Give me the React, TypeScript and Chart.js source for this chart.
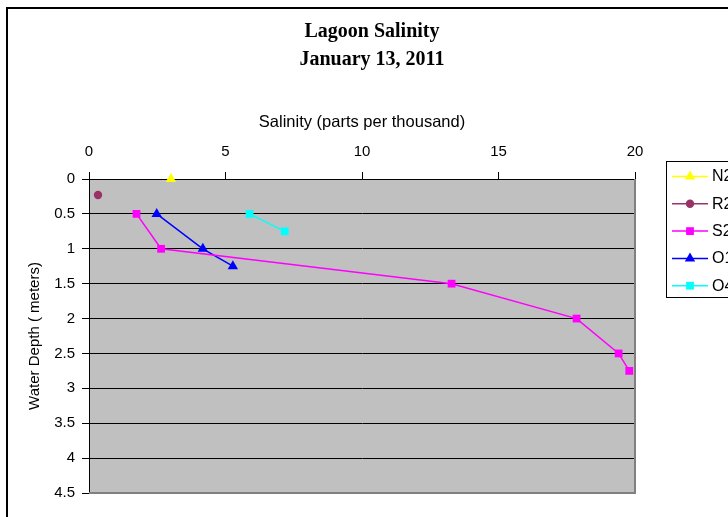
import React, { useEffect, useRef } from 'react';
import { Chart, registerables } from 'chart.js';

Chart.register(...registerables);

// ---- Data (salinity in ppt, depth in meters) ----
const seriesNames = ['N2', 'R2', 'S2', 'O1', 'O4'];
const seriesColors = ['#FFFF00', '#993366', '#FF00FF', '#0000FF', '#00FFFF'];
const seriesMarkers = ['triangle', 'circle', 'rect', 'triangle', 'rect'];

const n2Salinity = [3.0];
const n2Depth = [0];
const r2Salinity = [0.33];
const r2Depth = [0.23];
const s2Salinity = [1.74, 2.64, 13.28, 17.86, 19.4, 19.79];
const s2Depth = [0.5, 1.0, 1.5, 2.0, 2.5, 2.75];
const o1Salinity = [2.48, 4.17, 5.27];
const o1Depth = [0.5, 1.0, 1.25];
const o4Salinity = [5.88, 7.17];
const o4Depth = [0.5, 0.75];

const salinityTicks = [0, 5, 10, 15, 20];
const depthTicks = [0, 0.5, 1, 1.5, 2, 2.5, 3, 3.5, 4, 4.5];

const titleLines = ['Lagoon Salinity', 'January 13, 2011'];
const xTitle = 'Salinity (parts per thousand)';
const yTitle = 'Water Depth ( meters)';

const seriesX = [n2Salinity, r2Salinity, s2Salinity, o1Salinity, o4Salinity];
const seriesY = [n2Depth, r2Depth, s2Depth, o1Depth, o4Depth];

const SANS = "'Liberation Sans', Arial, sans-serif";
const SERIF = "'Liberation Serif', 'Times New Roman', serif";

function markerRadius(style: string) {
  if (style === 'circle') return 4.2;
  if (style === 'triangle') return 6;
  return 5.5;
}

function drawMarker(ctx: CanvasRenderingContext2D, style: string, x: number, y: number, r: number, color: string) {
  ctx.save();
  ctx.fillStyle = color;
  ctx.beginPath();
  if (style === 'circle') {
    ctx.arc(x, y, r, 0, Math.PI * 2);
  } else if (style === 'rect') {
    const s = r * Math.SQRT1_2;
    ctx.rect(x - s, y - s, 2 * s, 2 * s);
  } else {
    let rad = 0;
    ctx.moveTo(x + Math.sin(rad) * r, y - Math.cos(rad) * r);
    rad += (2 * Math.PI) / 3;
    ctx.lineTo(x + Math.sin(rad) * r, y - Math.cos(rad) * r);
    rad += (2 * Math.PI) / 3;
    ctx.lineTo(x + Math.sin(rad) * r, y - Math.cos(rad) * r);
    ctx.closePath();
  }
  ctx.fill();
  ctx.restore();
}

const decorPlugin = {
  id: 'decor',
  beforeDraw(chart: any) {
    const { ctx, chartArea: a } = chart;
    ctx.save();
    ctx.fillStyle = '#ffffff';
    ctx.fillRect(0, 0, chart.width, chart.height);
    ctx.strokeStyle = '#000000';
    ctx.lineWidth = 2;
    ctx.strokeRect(7, 8, 760, 560);
    ctx.fillStyle = '#C0C0C0';
    ctx.fillRect(a.left, a.top, a.right - a.left, a.bottom - a.top);
    ctx.restore();
  },
  beforeDatasetsDraw(chart: any) {
    const { ctx, chartArea: a } = chart;
    ctx.save();
    ctx.strokeStyle = '#808080';
    ctx.lineWidth = 2;
    ctx.beginPath();
    ctx.moveTo(a.right, a.top);
    ctx.lineTo(a.right, a.bottom);
    ctx.lineTo(a.left, a.bottom);
    ctx.stroke();
    ctx.restore();
  },
  afterDraw(chart: any) {
    const { ctx } = chart;
    ctx.save();
    // Title
    ctx.fillStyle = '#000000';
    ctx.font = `bold 20px ${SERIF}`;
    ctx.textAlign = 'center';
    ctx.textBaseline = 'alphabetic';
    ctx.fillText(titleLines[0], 372, 37);
    ctx.fillText(titleLines[1], 372, 65);

    // Legend
    const lx = 666;
    const ly = 161;
    ctx.fillStyle = '#ffffff';
    ctx.fillRect(lx, ly, 100, 136);
    ctx.strokeStyle = '#000000';
    ctx.lineWidth = 1;
    ctx.strokeRect(lx + 0.5, ly + 0.5, 100, 136);
    ctx.font = `16px ${SANS}`;
    ctx.textAlign = 'left';
    ctx.textBaseline = 'middle';
    chart.data.datasets.forEach((ds: any, i: number) => {
      const y = 176.5 + i * 27.3;
      ctx.strokeStyle = ds.borderColor;
      ctx.lineWidth = 1.5;
      ctx.beginPath();
      ctx.moveTo(672, y);
      ctx.lineTo(708, y);
      ctx.stroke();
      drawMarker(ctx, ds.pointStyle, 690, y, ds.pointRadius, ds.borderColor);
      ctx.fillStyle = '#000000';
      ctx.fillText(ds.label, 712, y + 0.5);
    });
    ctx.restore();
  },
};

export default function App() {
  const canvasRef = useRef<HTMLCanvasElement | null>(null);

  useEffect(() => {
    if (!canvasRef.current) return;
    const datasets = seriesNames.map((name, i) => ({
      label: name,
      data: seriesX[i].map((x, j) => ({ x, y: seriesY[i][j] })),
      borderColor: seriesColors[i],
      backgroundColor: seriesColors[i],
      pointBackgroundColor: seriesColors[i],
      pointBorderColor: seriesColors[i],
      pointBorderWidth: 0,
      pointStyle: seriesMarkers[i],
      pointRadius: markerRadius(seriesMarkers[i]),
      borderWidth: 1.5,
      showLine: true,
      tension: 0,
      clip: false as any,
    }));

    const chart = new Chart(canvasRef.current, {
      type: 'scatter',
      data: { datasets },
      options: {
        responsive: false,
        animation: false,
        devicePixelRatio: 1,
        layout: { padding: { left: 0, top: 0, right: 93, bottom: 24 } },
        plugins: {
          legend: { display: false },
          title: { display: false },
          tooltip: { enabled: false },
        },
        scales: {
          x: {
            type: 'linear',
            position: 'top',
            min: salinityTicks[0],
            max: salinityTicks[salinityTicks.length - 1],
            afterBuildTicks: (scale: any) => {
              scale.ticks = salinityTicks.map((v) => ({ value: v }));
            },
            afterFit: (scale: any) => {
              scale.height = 179;
            },
            ticks: {
              color: '#000000',
              font: { family: SANS, size: 15 },
              padding: 11,
              maxRotation: 0,
            },
            grid: {
              drawOnChartArea: false,
              drawTicks: true,
              tickLength: 7,
              color: '#000000',
              lineWidth: 1,
            },
            border: { display: true, color: '#000000', width: 1 },
            title: {
              display: true,
              text: xTitle,
              color: '#000000',
              font: { family: SANS, size: 16.5 },
              padding: { top: 112.6, bottom: 0 },
            },
          },
          y: {
            type: 'linear',
            position: 'left',
            reverse: true,
            min: depthTicks[0],
            max: depthTicks[depthTicks.length - 1],
            afterBuildTicks: (scale: any) => {
              scale.ticks = depthTicks.map((v) => ({ value: v }));
            },
            afterFit: (scale: any) => {
              scale.width = 89;
            },
            ticks: {
              color: '#000000',
              font: { family: SANS, size: 15 },
              padding: 7,
              callback: (v: any) => String(v),
            },
            grid: {
              drawOnChartArea: true,
              drawTicks: true,
              tickLength: 7,
              color: '#000000',
              lineWidth: 1,
            },
            border: { display: true, color: '#000000', width: 1 },
            title: {
              display: true,
              text: yTitle,
              color: '#000000',
              font: { family: SANS, size: 15 },
              padding: { top: 26, bottom: 0 },
            },
          },
        },
      },
      plugins: [decorPlugin],
    });

    return () => chart.destroy();
  }, []);

  return (
    <div style={{ position: 'fixed', left: 0, top: 0, width: 728, height: 517 }}>
      <canvas ref={canvasRef} width={728} height={517} style={{ display: 'block' }} />
    </div>
  );
}
